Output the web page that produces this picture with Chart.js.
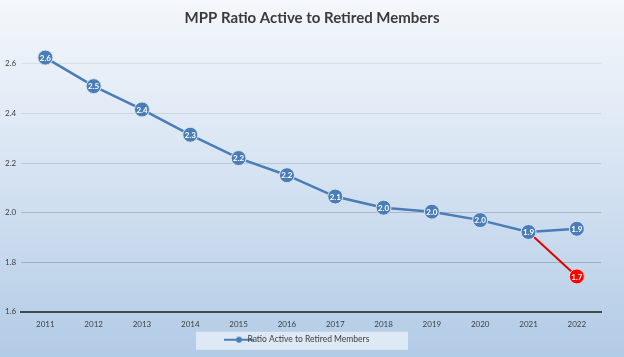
<!DOCTYPE html>
<html><head><meta charset="utf-8">
<script src="https://cdn.jsdelivr.net/npm/chart.js@4.4.0/dist/chart.umd.min.js"></script>
<style>html,body{margin:0;padding:0;}#wrap{width:624px;height:357px;}</style>
</head><body><div id="wrap"><canvas id="c" width="624" height="357"></canvas></div>
<script>
const years = ['2011','2012','2013','2014','2015','2016','2017','2018','2019','2020','2021','2022'];
const ratio = [2.625, 2.51, 2.416, 2.314, 2.22, 2.151, 2.065, 2.02, 2.004, 1.97, 1.922, 1.935];
const projected = [null, null, null, null, null, null, null, null, null, null, 1.922, 1.743];
const yTicks = [1.6, 1.8, 2.0, 2.2, 2.4, 2.6];
const seriesName = 'Ratio Active to Retired Members';
const titleText = 'MPP Ratio Active to Retired Members';

const BLUE = '#4a7db7';
const FONT = 'Lato, "Open Sans", sans-serif';

// legend icon: line with circle
const icon = document.createElement('canvas');
icon.width = 30; icon.height = 8;
(function(){
  const g = icon.getContext('2d');
  g.strokeStyle = BLUE; g.lineWidth = 2;
  g.beginPath(); g.moveTo(0,4); g.lineTo(30,4); g.stroke();
  g.fillStyle = BLUE; g.beginPath(); g.arc(15,4,3,0,Math.PI*2); g.fill();
})();

const legendShift = {
  id: 'legendShift',
  afterLayout(chart) {
    const lg = chart.legend;
    if (lg) { lg.left -= 10; lg.right -= 10; }
  }
};

const bgPlugin = {
  id: 'bg',
  beforeDraw(chart) {
    const ctx = chart.ctx;
    const grad = ctx.createLinearGradient(0, 0, 0, chart.height);
    grad.addColorStop(0, '#f4f7fb');
    grad.addColorStop(0.35, '#dfe9f5');
    grad.addColorStop(1, '#b2cbe6');
    ctx.save();
    ctx.fillStyle = grad;
    ctx.fillRect(0, 0, chart.width, chart.height);
    const lg = chart.legend;
    if (lg && lg.legendHitBoxes && lg.legendHitBoxes.length) {
      const hb = lg.legendHitBoxes[0];
      const cx = hb.left + hb.width / 2;
      const cy = hb.top + hb.height / 2;
      ctx.fillStyle = 'rgba(235,242,250,0.75)';
      ctx.fillRect(cx - 106, cy - 8, 212, 18);
    }
    ctx.restore();
  }
};

const labelPlugin = {
  id: 'ptlabels',
  afterDatasetsDraw(chart) {
    const ctx = chart.ctx;
    ctx.save();
    ctx.font = 'bold 8px ' + FONT;
    ctx.fillStyle = '#ffffff';
    ctx.textAlign = 'center';
    ctx.textBaseline = 'middle';
    chart.data.datasets.forEach((ds, di) => {
      const meta = chart.getDatasetMeta(di);
      meta.data.forEach((pt, i) => {
        const v = ds.data[i];
        if (v == null) return;
        const r = Array.isArray(ds.pointRadius) ? ds.pointRadius[i] : ds.pointRadius;
        if (!r) return;
        ctx.fillText(v.toFixed(1), pt.x, pt.y + 0.5);
      });
    });
    ctx.restore();
  }
};

new Chart(document.getElementById('c'), {
  type: 'line',
  data: {
    labels: years,
    datasets: [
      {
        label: seriesName,
        data: ratio,
        borderColor: BLUE,
        backgroundColor: BLUE,
        borderWidth: 2.5,
        pointRadius: 7.5,
        pointStyle: 'circle',
        pointBackgroundColor: BLUE,
        pointBorderColor: '#dbe6f2',
        pointBorderWidth: 1,
        tension: 0,
        order: 1
      },
      {
        label: 'projected',
        data: projected,
        borderColor: '#e00000',
        backgroundColor: '#ff0000',
        borderWidth: 2,
        pointStyle: 'circle',
        pointRadius: projected.map((v, i) => i === projected.length - 1 ? 7.5 : 0),
        pointBackgroundColor: '#ff0000',
        pointBorderColor: '#ffd0d0',
        pointBorderWidth: 1,
        tension: 0,
        order: 2
      }
    ]
  },
  options: {
    responsive: false,
    animation: false,
    layout: { padding: { left: 0, right: 0, top: 0, bottom: 3 } },
    plugins: {
      title: {
        display: true,
        text: titleText,
        color: '#3a3a3a',
        font: { family: FONT, size: 15, weight: 'bold' },
        padding: { top: 9, bottom: 12 }
      },
      legend: {
        position: 'bottom',
        labels: {
          usePointStyle: true,
          color: '#404040',
          font: { family: FONT, size: 8.5 },
          padding: 6,
          generateLabels: (chart) => [{
            text: seriesName,
            pointStyle: icon,
            fillStyle: BLUE,
            strokeStyle: BLUE,
            lineWidth: 0,
            datasetIndex: 0,
            fontColor: '#404040'
          }]
        }
      },
      tooltip: { enabled: false }
    },
    scales: {
      x: {
        offset: true,
        grid: { display: false },
        border: { display: true, color: '#3f4a55', width: 2 },
        ticks: { color: '#404040', font: { family: FONT, size: 8 }, padding: 0, maxRotation: 0 }
      },
      y: {
        min: 1.6,
        max: 2.7,
        afterBuildTicks: (scale) => { scale.ticks = yTicks.map(v => ({ value: v })); },
        grid: {
          color: (ctx) => {
            const v = ctx.tick ? ctx.tick.value : 2;
            const a = v >= 2.5 ? 0.12 : v >= 2.3 ? 0.16 : v >= 2.1 ? 0.24 : v >= 1.9 ? 0.34 : 0.4;
            return 'rgba(100,115,130,' + a + ')';
          },
          lineWidth: 1,
          drawTicks: false
        },
        border: { display: false },
        ticks: {
          color: '#404040',
          font: { family: FONT, size: 8 },
          padding: 5,
          callback: (v) => Number(v).toFixed(1)
        }
      },
      yRight: {
        position: 'right',
        display: true,
        grid: { display: false, drawTicks: false },
        border: { display: false },
        ticks: { display: false },
        afterFit: (scale) => { scale.width = 23; }
      }
    }
  },
  plugins: [legendShift, bgPlugin, labelPlugin]
});
</script>
</body></html>
